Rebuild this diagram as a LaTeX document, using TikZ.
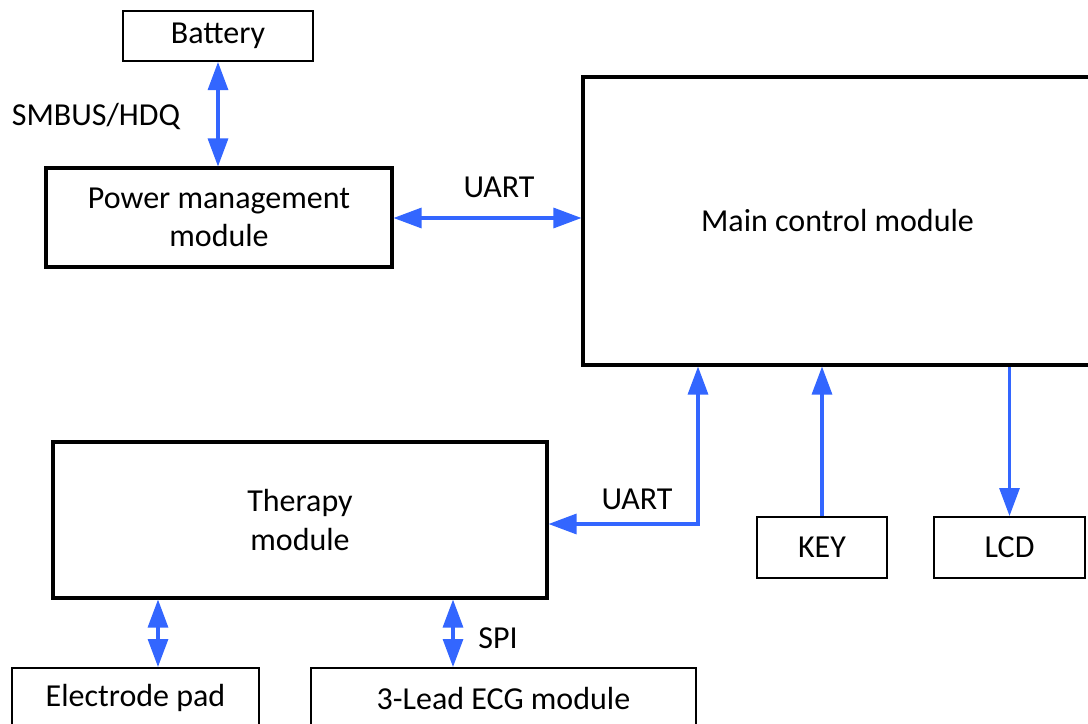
\documentclass[tikz,border=0pt]{standalone}
\usepackage{fontspec}
\setmainfont{Carlito}
\usetikzlibrary{arrows.meta}
\definecolor{arrblue}{RGB}{51,102,255}
\tikzset{
  thinbox/.style={draw=black, line width=1.5pt, rectangle, inner sep=0pt, align=center},
  thickbox/.style={draw=black, line width=2.3pt, rectangle, inner sep=0pt, align=center},
  conn/.style={draw=arrblue, line width=2.3pt, arrows={-Triangle[length=21pt,width=15pt]}},
  bconn/.style={draw=arrblue, line width=2.3pt, arrows={Triangle[length=21pt,width=15pt]-Triangle[length=21pt,width=15pt]}},
  lbl/.style={inner sep=0pt}
}
\begin{document}
\begin{tikzpicture}[x=0.75pt, y=-0.75pt, font=\fontsize{24}{29}\selectfont]
\path[use as bounding box, clip] (0,0) rectangle (1088,724);
\fill[white] (0,0) rectangle (1088,724);
% boxes
\node[thinbox, minimum width=190*0.75pt, minimum height=50*0.75pt] (bat) at (218,36) {Battery};
\node[thickbox, minimum width=346*0.75pt, minimum height=99*0.75pt] (pwr) at (219,217.5) {Power management\\module};
\node[thickbox, minimum width=509*0.75pt, minimum height=288*0.75pt] (main) at (837.5,221) {Main control module};
\node[thickbox, minimum width=494*0.75pt, minimum height=156*0.75pt] (ther) at (300,520) {Therapy\\module};
\node[thinbox, minimum width=130*0.75pt, minimum height=61*0.75pt] (key) at (822,547.5) {KEY};
\node[thinbox, minimum width=151*0.75pt, minimum height=61*0.75pt] (lcd) at (1009.5,547.5) {LCD};
\node[thinbox, minimum width=247*0.75pt, minimum height=60*0.75pt] (elec) at (135.5,698) {Electrode pad};
\node[thinbox, minimum width=385*0.75pt, minimum height=60*0.75pt] (ecg) at (503.5,698) {3-Lead ECG module};
% connectors
\draw[bconn] (bat.south) -- (bat.south |- pwr.north);
\node[lbl] (l1) at (96,117) {SMBUS/HDQ};
\coordinate (u1) at (0,218);
\draw[bconn] (pwr.east |- u1) -- (main.west |- u1);
\node[lbl] (l2) at (499,187) {UART};
\coordinate (u2) at (698,524);
\draw[bconn] (u2 -| ther.east) -- (u2) -- (u2 |- main.south);
\node[lbl] (l3) at (637,499) {UART};
\draw[conn] (key.north) -- (key.north |- main.south);
\draw[conn] (lcd.north |- main.south) -- (lcd.north);
\coordinate (e1) at (158,0);
\draw[bconn] (e1 |- ther.south) -- (e1 |- elec.north);
\coordinate (e2) at (453,0);
\draw[bconn] (e2 |- ther.south) -- (e2 |- ecg.north);
\node[lbl] (l4) at (498,638) {SPI};
\end{tikzpicture}
\end{document}
